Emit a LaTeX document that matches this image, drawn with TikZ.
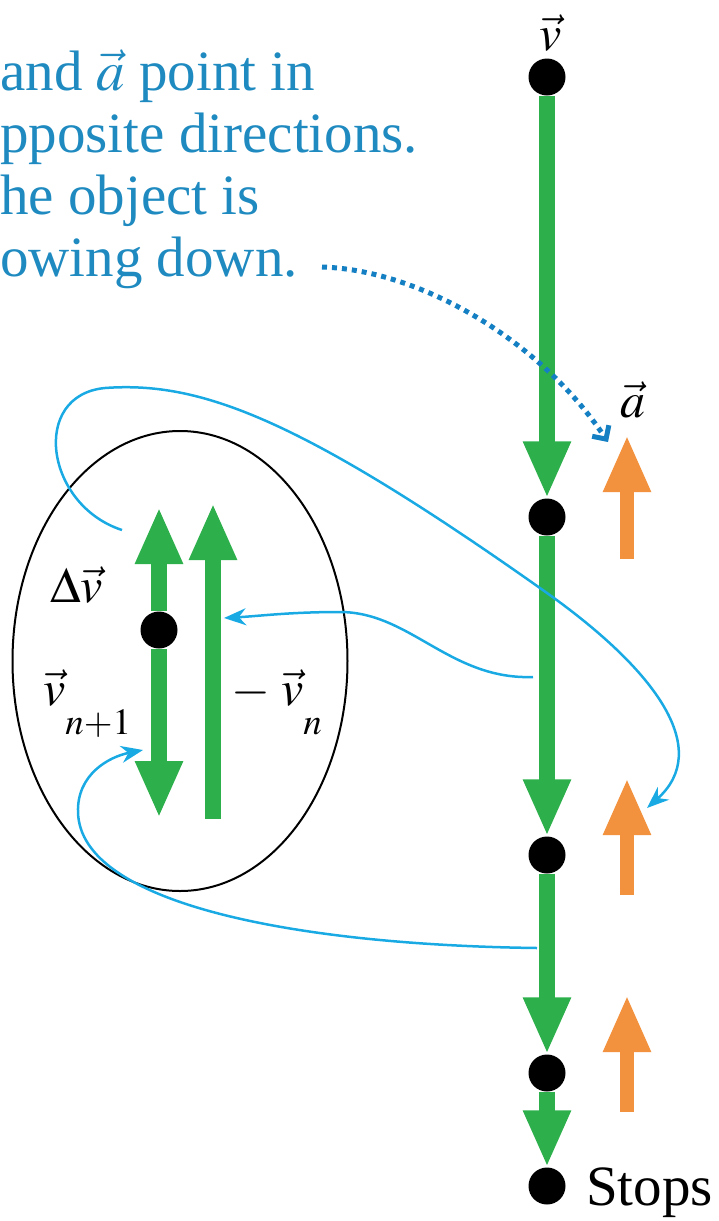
\documentclass[tikz,border=0pt]{standalone}
\usepackage{mathptmx}
\usepackage{fontspec}
\setmainfont{Liberation Serif}
\usetikzlibrary{arrows.meta,shapes.geometric}
\definecolor{velgreen}{RGB}{45,176,75}
\definecolor{accorange}{RGB}{242,146,62}
\definecolor{linkblue}{RGB}{25,170,228}
\definecolor{noteblue}{RGB}{30,138,192}
\definecolor{dotblue}{RGB}{20,128,195}
\tikzset{
  dot/.style={circle, fill=black, inner sep=0pt, minimum size=37pt},
  vel/.style={draw=velgreen, line width=16pt, -{Triangle[width=44pt,length=57pt]}},
  acc/.style={draw=accorange, line width=14pt, -{Triangle[width=44pt,length=57pt]}},
  link/.style={draw=linkblue, line width=2.5pt, -{Stealth[length=22pt,width=17pt]}},
  lab/.style={inner sep=0pt, font=\fontsize{50}{55}\selectfont},
  note/.style={inner sep=0pt, anchor=base west, text=noteblue, font=\fontsize{57}{62}\selectfont}
}
\begin{document}
\begin{tikzpicture}[x=1pt, y=-1pt]
\useasboundingbox (0,0) rectangle (719,1221);
% motion diagram
\node[dot] (p0) at (547,77) {};
\node[dot] (p1) at (547,517) {};
\node[dot] (p2) at (547,855) {};
\node[dot] (p3) at (547,1073) {};
\node[dot] (p4) at (547,1186) {};
\draw[vel] (p0) -- (p1);
\draw[vel] (p1) -- (p2);
\draw[vel] (p2) -- (p3);
\draw[vel] (p3) -- (p4);
\node[lab, anchor=base] (vlab) at (551,50) {$\vec{v}$};
\node[lab, anchor=base west, font=\fontsize{57}{62}\selectfont] (stoplab) at (586,1205) {Stops};
% acceleration
\coordinate (a1b) at (627,559); \coordinate (a1t) at (627,435);
\coordinate (a2b) at (627,895); \coordinate (a2t) at (627,778);
\coordinate (a3b) at (627,1112); \coordinate (a3t) at (627,995);
\draw[acc] (a1b) -- (a1t);
\draw[acc] (a2b) -- (a2t);
\draw[acc] (a3b) -- (a3t);
\node[lab, anchor=base] (alab) at (633,417) {$\vec{a}$};
% vector subtraction
\node[draw, ellipse, line width=2pt, minimum width=335pt, minimum height=460pt] (vsum) at (180,661) {};
\node[dot] (q) at (159,630) {};
\coordinate (dvtip) at (159,507); \coordinate (vntip) at (159,818);
\coordinate (mvbot) at (213,819); \coordinate (mvtop) at (213,503);
\draw[vel] (q) -- (dvtip);
\draw[vel] (q) -- (vntip);
\draw[vel] (mvbot) -- (mvtop);
\node[lab, anchor=base west] (dvlab) at (50,602) {$\Delta\vec{v}$};
\node[lab, anchor=base west] (vnlab) at (43,705) {$\vec{v}_{\raisebox{-22pt}{$\scriptstyle n+1$}}$};
\node[lab, anchor=base west] (mvlab) at (231,705) {$-\;\vec{v}_{\raisebox{-22pt}{$\scriptstyle n$}}$};
% note
\node[note] (l1) at (0,90) {and $\vec{a}$ point in};
\node[note] (l2) at (0,152) {pposite directions.};
\node[note] (l3) at (0,214) {he object is};
\node[note] (l4) at (0,276) {owing down.};
\coordinate (dotstart) at (322,267); \coordinate (dotend) at (608,442);
\draw[dotblue, line width=5pt, dash pattern=on 5pt off 5pt, -{Straight Barb[length=10pt,width=20pt]}] (dotstart) .. controls (420,270) and (540,340) .. (dotend);
% links
\coordinate (startA) at (122,530); \coordinate (endA) at (647,808);
\draw[link] (startA) .. controls (45,505) and (30,395) .. (105,388) .. controls (200,381) and (300,418) .. (547,593) .. controls (658,672) and (712,750) .. (endA);
\coordinate (startB) at (533,677); \coordinate (endB) at (224,618);
\draw[link] (startB) .. controls (450,680) and (410,612) .. (340,612) .. controls (290,612) and (260,616) .. (endB);
\coordinate (startC) at (537,948); \coordinate (endC) at (143,750);
\draw[link] (startC) .. controls (300,945) and (80,905) .. (78,812) .. controls (77,775) and (108,757) .. (endC);
\end{tikzpicture}
\end{document}
